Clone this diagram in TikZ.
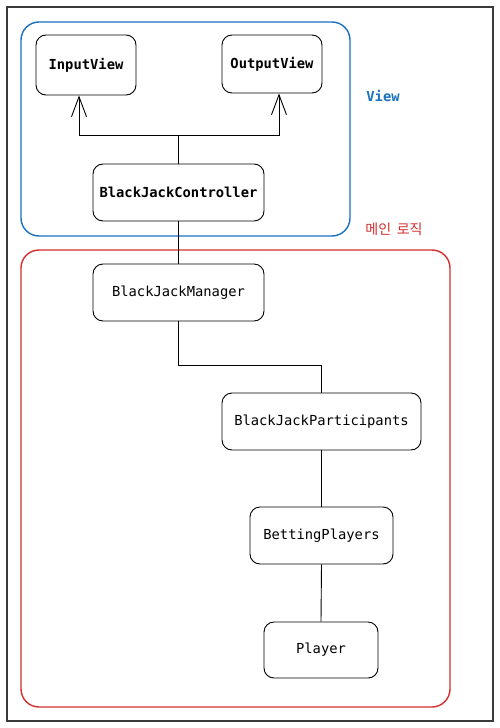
\documentclass[tikz,border=0pt]{standalone}
\usepackage{fontspec}
\setmonofont{DejaVu Sans Mono}
\newfontfamily\krfont{Noto Sans CJK KR}
\usetikzlibrary{arrows.meta,calc}
\definecolor{exblue}{HTML}{1971C2}
\definecolor{exred}{HTML}{D32F2F}
\definecolor{frame}{HTML}{3A3A3A}
\tikzset{
  cls/.style={draw=black, line width=0.9pt, rounded corners=10pt, fill=white,
    font=\ttfamily\fontsize{13.8}{16}\selectfont, inner sep=0pt},
  clsb/.style={cls, font=\ttfamily\bfseries\fontsize{13.8}{16}\selectfont},
  conn/.style={draw=black, line width=0.9pt},
  arr/.style={conn, -{Straight Barb[length=20pt,width=15pt,line width=0.9pt]}},
  group/.style={line width=1.4pt, rounded corners=18pt},
}
\begin{document}
\begin{tikzpicture}[x=1pt,y=-1pt]
\useasboundingbox (0,0) rectangle (500,728);
\fill[white] (0,0) rectangle (500,728);
\draw[frame, line width=1.1pt] (7,7) rectangle (493,721);
\draw[group, exblue] (21,22) rectangle (350,236);
\draw[group, exred] (21,250) rectangle (450,707);
\node[text=exblue, font=\ttfamily\bfseries\fontsize{13.8}{16}\selectfont] (lview) at (383,96) {View};
\node[text=exred, font=\krfont\fontsize{14}{16}\selectfont] (lmain) at (394,229) {메인\hspace{0.4em}로직};

\node[clsb, minimum width=100pt, minimum height=60pt] (in) at (86,65) {InputView};
\node[clsb, minimum width=100pt, minimum height=58pt] (out) at (272,64) {OutputView};
\node[clsb, minimum width=171pt, minimum height=57pt] (ctrl) at (178.5,192.5) {BlackJackController};
\node[cls, minimum width=171pt, minimum height=57pt] (mgr) at (178.5,292.5) {BlackJackManager};
\node[cls, minimum width=199pt, minimum height=57pt] (part) at (321.5,421.5) {BlackJackParticipants};
\node[cls, minimum width=143pt, minimum height=57pt] (bet) at (321.5,535.5) {BettingPlayers};
\node[cls, minimum width=114pt, minimum height=56pt] (pl) at (321,650) {Player};

\coordinate (junc) at (178.5,135);
\draw[conn] (ctrl.north) -- (junc);
\draw[arr] (junc) -| ([xshift=-7pt]in.south);
\draw[arr] (junc) -| ([xshift=7pt]out.south);
\draw[conn] (ctrl.south) -- (mgr.north);
\draw[conn] (mgr.south) -- ++(0,43.5) -| (part.north);
\draw[conn] (part.south) -- (bet.north);
\draw[conn] (bet.south) -- (pl.north);
\end{tikzpicture}
\end{document}
